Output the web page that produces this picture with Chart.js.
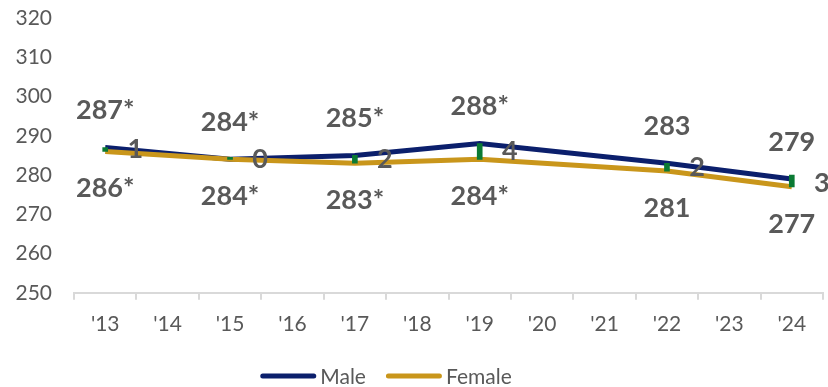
<!DOCTYPE html>
<html>
<head>
<meta charset="utf-8">
<script src="https://cdn.jsdelivr.net/npm/chart.js@4"></script>
<style>
  html, body { margin: 0; padding: 0; background: #fff; }
  #wrap { width: 828px; height: 387px; position: relative; }
</style>
</head>
<body>
<div id="wrap"><canvas id="c"></canvas></div>
<script>
// Survey years shown on the category axis
const years = ["'13", "'14", "'15", "'16", "'17", "'18", "'19", "'20", "'21", "'22", "'23", "'24"];

// Average scores by group (null = no assessment that year)
const male   = [287, null, 284, null, 285, null, 288, null, null, 283, null, 279];
const female = [286, null, 284, null, 283, null, 284, null, null, 281, null, 277];

// Asterisk marks a score that differs significantly from the latest year
const maleSig   = [true, null, true, null, true, null, true, null, null, false, null, false];
const femaleSig = [true, null, true, null, true, null, true, null, null, false, null, false];

// Reported male–female score gap
const gaps = [1, null, 0, null, 2, null, 4, null, null, 2, null, 3];

// Y-axis range and step
const yMin = 250, yMax = 320, yStep = 10;

const NAVY = '#0B1F6C';
const GOLD = '#C9961B';
const GREEN = '#0A7A33';
const GREY = '#595959';
const FONT = 'Lato';

// Floating bars spanning the gap, anchored on the female score
const gapBars = gaps.map((g, i) => (g == null ? null : [female[i], female[i] + g]));

// Writes the score labels above/below the lines and the gap number beside them
const scoreLabels = {
  id: 'scoreLabels',
  afterDatasetsDraw(chart) {
    const { ctx, scales: { x, y } } = chart;
    ctx.save();
    ctx.font = 'bold 27px ' + FONT;
    ctx.fillStyle = GREY;
    ctx.textAlign = 'center';
    ctx.textBaseline = 'middle';
    years.forEach((_, i) => {
      if (male[i] == null) return;
      const px = x.getPixelForValue(i);
      const my = y.getPixelForValue(male[i]);
      const fy = y.getPixelForValue(female[i]);
      ctx.fillText(male[i] + (maleSig[i] ? '*' : ''), px, my - 37);
      ctx.fillText(female[i] + (femaleSig[i] ? '*' : ''), px, fy + 37);
      ctx.fillText(String(gaps[i]), px + 30, (my + fy) / 2);
    });
    ctx.restore();
  }
};

// Legend row under the axis: a short thick line swatch followed by the series name
const lineLegend = {
  id: 'lineLegend',
  afterDraw(chart) {
    const { ctx } = chart;
    const items = chart.data.datasets.filter(d => d.type !== 'bar');
    const swatch = 56, gapTxt = 4, spacing = 20, cy = 376, centre = 386;
    ctx.save();
    ctx.font = '21px ' + FONT;
    ctx.textBaseline = 'middle';
    ctx.textAlign = 'left';
    const widths = items.map(d => swatch + gapTxt + ctx.measureText(d.label).width);
    const total = widths.reduce((a, b) => a + b, 0) + spacing * (items.length - 1);
    let x = centre - total / 2;
    items.forEach((d, k) => {
      ctx.strokeStyle = d.borderColor;
      ctx.lineWidth = 5;
      ctx.lineCap = 'round';
      ctx.beginPath();
      ctx.moveTo(x + 2.5, cy);
      ctx.lineTo(x + swatch - 2.5, cy);
      ctx.stroke();
      ctx.fillStyle = GREY;
      ctx.fillText(d.label, x + swatch + gapTxt, cy + 1);
      x += widths[k] + spacing;
    });
    ctx.restore();
  }
};

new Chart(document.getElementById('c'), {
  type: 'line',
  data: {
    labels: years,
    datasets: [
      {
        type: 'bar',
        label: 'Gap',
        data: gapBars,
        backgroundColor: GREEN,
        barThickness: 5,
        minBarLength: 2,
        grouped: false,
        order: 0
      },
      {
        label: 'Male',
        data: male,
        borderColor: NAVY,
        backgroundColor: NAVY,
        borderWidth: 5,
        pointRadius: 0,
        tension: 0,
        spanGaps: true,
        order: 2
      },
      {
        label: 'Female',
        data: female,
        borderColor: GOLD,
        backgroundColor: GOLD,
        borderWidth: 5,
        pointRadius: 0,
        tension: 0,
        spanGaps: true,
        order: 1
      }
    ]
  },
  options: {
    responsive: true,
    maintainAspectRatio: false,
    animation: false,
    layout: { padding: { top: 18, right: 5, left: 0, bottom: 38 } },
    scales: {
      x: {
        offset: true,
        grid: {
          display: true,
          offset: true,
          drawOnChartArea: false,
          drawTicks: true,
          tickLength: 7,
          color: '#D9D9D9',
          lineWidth: 2
        },
        border: { display: true, color: '#D9D9D9', width: 2 },
        ticks: {
          color: GREY,
          font: { family: FONT, size: 21 },
          padding: 12,
          autoSkip: false,
          maxRotation: 0
        }
      },
      y: {
        min: yMin,
        max: yMax,
        grid: { display: false, drawTicks: false },
        border: { display: false },
        ticks: {
          stepSize: yStep,
          color: GREY,
          font: { family: FONT, size: 21 },
          padding: 22
        },
        afterFit(scale) {
          scale.width = 74;
          scale.paddingTop = 0;
          scale.paddingBottom = 0;
        }
      }
    },
    plugins: {
      tooltip: { enabled: false },
      legend: { display: false }
    }
  },
  plugins: [scoreLabels, lineLegend]
});
</script>
</body>
</html>
